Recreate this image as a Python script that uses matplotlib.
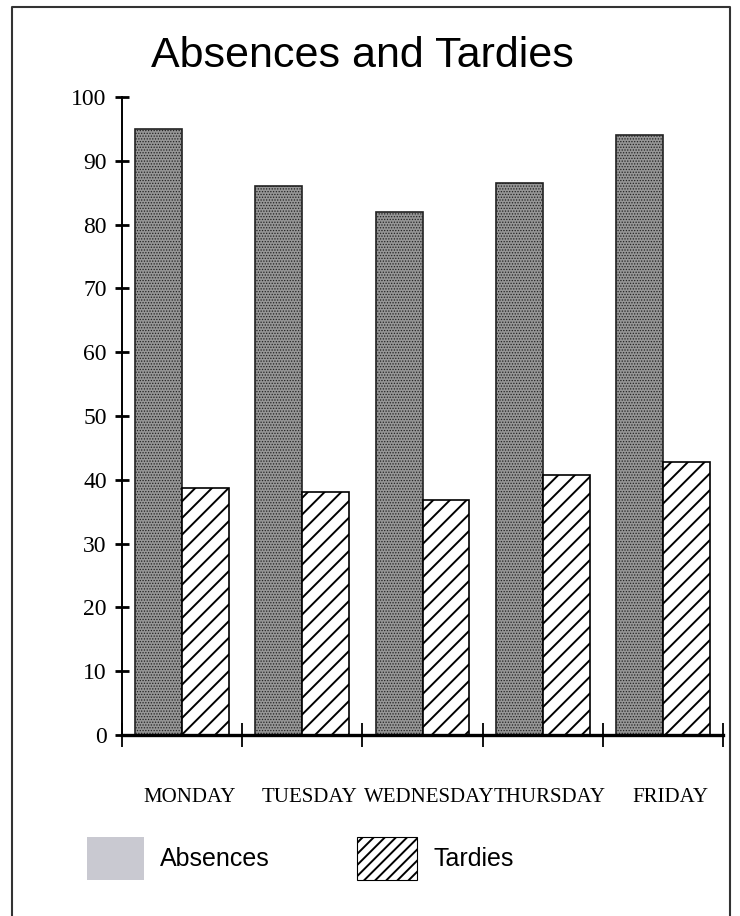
import numpy as np
import matplotlib
matplotlib.use('Agg')
import matplotlib.pyplot as plt
import matplotlib.transforms as mtransforms
from matplotlib.patches import Rectangle

days = ['MONDAY', 'TUESDAY', 'WEDNESDAY', 'THURSDAY', 'FRIDAY']
absences = [95, 86, 82, 86.5, 94]
tardies = [38.7, 38.1, 36.8, 40.8, 42.8]
yticks = list(range(0, 101, 10))

plt.rcParams['hatch.linewidth'] = 1.4

fig = plt.figure(figsize=(7.4, 9.16), dpi=100)
ax = fig.add_axes([0.1649, 0.1976, 0.8121, 0.6965])

x = np.arange(len(days))
w = 0.39
b1 = ax.bar(x - w, absences, width=w, align='edge', facecolor='#969696',
            edgecolor='#222222', linewidth=1.2, hatch='......', zorder=2)
b2 = ax.bar(x, tardies, width=w, align='edge', facecolor='white',
            edgecolor='black', linewidth=1.2, hatch='//', zorder=2)
for p in b1:
    if hasattr(p, 'set_hatch_linewidth'):
        p.set_hatch_linewidth(0.6)

ax.set_xlim(-0.5, len(days) - 0.5)
ax.set_ylim(0, 100)

ax.spines['top'].set_visible(False)
ax.spines['right'].set_visible(False)
ax.spines['bottom'].set_linewidth(2.4)
ax.spines['left'].set_linewidth(1.4)
ax.spines['bottom'].set_zorder(3)

ax.set_yticks(yticks)
ax.set_yticklabels([str(t) for t in yticks], family='Liberation Serif', fontsize=17)
ax.tick_params(axis='y', direction='inout', length=10, width=2, pad=6)

ax.set_xticks(x)
ax.set_xticklabels(days, family='Liberation Serif', fontsize=15)
ax.set_xticks(np.arange(len(days) + 1) - 0.5, minor=True)
ax.tick_params(axis='x', which='major', length=0, pad=38)
ax.tick_params(axis='x', which='minor', direction='inout', length=17, width=1.3)
offset = mtransforms.ScaledTranslation(7 / 100, 0, fig.dpi_scale_trans)
for lab in ax.get_xticklabels():
    lab.set_transform(lab.get_transform() + offset)

fig.text(362 / 740, 1 - 67 / 916, 'Absences and Tardies', ha='center', va='baseline',
         family='Liberation Sans', fontsize=31)

# legend drawn by hand
W, H = 740, 916
fig.patches.append(Rectangle((87 / W, 1 - 880 / H), 57 / W, 43 / H,
                             transform=fig.transFigure, facecolor='#c9c9d1',
                             edgecolor='none'))
fig.text(160 / W, 1 - 866 / H, 'Absences', family='Liberation Sans', fontsize=18,
         va='baseline', ha='left')
fig.patches.append(Rectangle((357 / W, 1 - 880 / H), 60 / W, 43 / H,
                             transform=fig.transFigure, facecolor='white',
                             edgecolor='black', linewidth=0.8, hatch='///'))
fig.text(434 / W, 1 - 866 / H, 'Tardies', family='Liberation Sans', fontsize=18,
         va='baseline', ha='left')

# outer frame
fig.add_artist(plt.Line2D([12 / W, 12 / W, 730 / W, 730 / W],
                          [0, 1 - 7 / H, 1 - 7 / H, 0],
                          transform=fig.transFigure, color='#333333', linewidth=1.5))

fig.savefig('out.png', dpi=100)
